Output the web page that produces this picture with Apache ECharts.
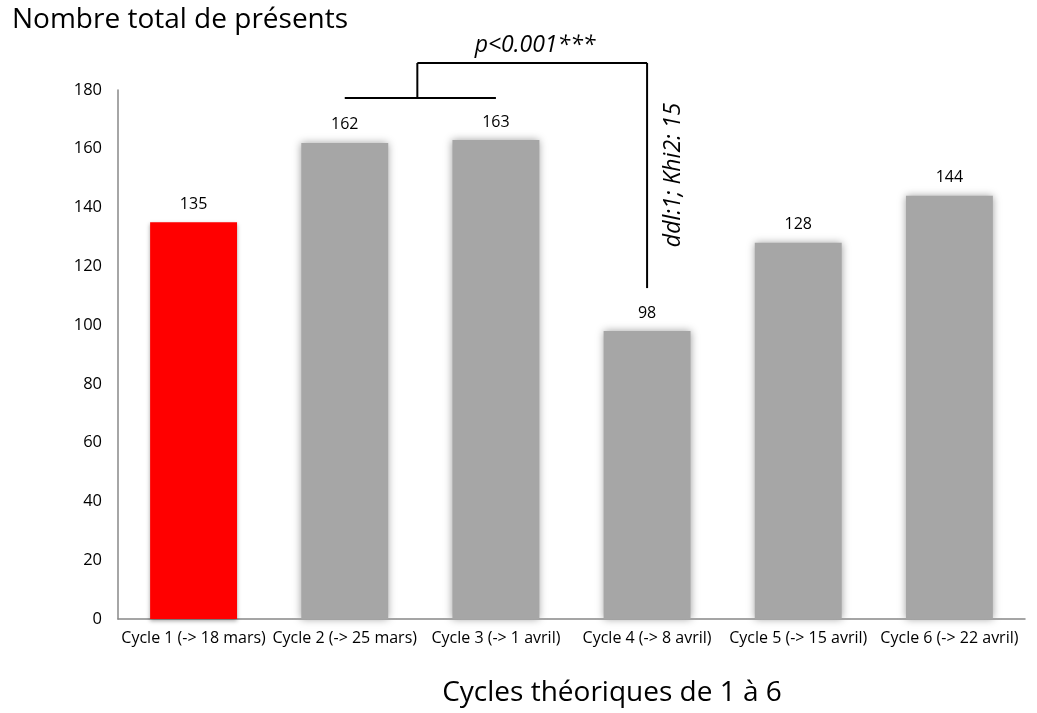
<!DOCTYPE html>
<html>
<head>
<meta charset="utf-8">
<script src="https://cdn.jsdelivr.net/npm/echarts@6/dist/echarts.min.js"></script>
<style>
  html, body { margin: 0; padding: 0; background: #ffffff; }
  #chart { width: 1037px; height: 713px; }
</style>
</head>
<body>
<div id="chart"></div>
<script>
// Attendance per theoretical cycle
const categories = [
  'Cycle 1 (-> 18 mars)',
  'Cycle 2 (-> 25 mars)',
  'Cycle 3 (-> 1 avril)',
  'Cycle 4 (-> 8 avril)',
  'Cycle 5 (-> 15 avril)',
  'Cycle 6 (-> 22 avril)'
];
const presents = [135, 162, 163, 98, 128, 144];
const highlighted = [true, false, false, false, false, false];

const yMin = 0;
const yMax = 180;
const yStep = 20;

const chartTitle = 'Nombre total de présents';
const xTitle = 'Cycles théoriques de 1 à 6';
const testResult = 'p<0.001***';
const testStats = 'ddl:1; Khi2: 15';

// Levels (in axis units) of the comparison bracket between cycles 2-3 and cycle 4
const bracketLow = 177.3;
const bracketHigh = 189.2;
const bracketEnd = 112.6;

const FONT = '"Open Sans", "Noto Sans", sans-serif';
const RED = '#ff0000';
const GREY = '#a6a6a6';

const chart = echarts.init(document.getElementById('chart'), null, { renderer: 'canvas' });

const barData = presents.map((v, i) => ({
  value: v,
  itemStyle: highlighted[i]
    ? { color: RED, shadowBlur: 4, shadowColor: 'rgba(0,0,0,0.35)', shadowOffsetY: 2 }
    : { color: GREY, shadowBlur: 8, shadowColor: 'rgba(160,160,160,1)' }
}));

chart.setOption({
  animation: false,
  backgroundColor: '#ffffff',
  grid: { left: 118, right: 12, top: 90, bottom: 94, containLabel: false },
  xAxis: {
    type: 'category',
    data: categories,
    axisLine: { show: true, lineStyle: { color: '#888888', width: 1.5 } },
    axisTick: { show: false },
    axisLabel: {
      interval: 0,
      margin: 11,
      color: '#000000',
      fontFamily: FONT,
      fontSize: 16
    },
    splitLine: { show: false }
  },
  yAxis: {
    type: 'value',
    min: yMin,
    max: yMax,
    interval: yStep,
    axisLine: { show: true, lineStyle: { color: '#888888', width: 1.5 } },
    axisTick: { show: false },
    axisLabel: {
      margin: 16,
      color: '#000000',
      fontFamily: FONT,
      fontSize: 16.5
    },
    splitLine: { show: false }
  },
  series: [{
    type: 'bar',
    data: barData,
    barWidth: '57.5%',
    label: {
      show: true,
      position: 'top',
      distance: 10,
      color: '#000000',
      fontFamily: FONT,
      fontSize: 16
    }
  }]
});

// Comparison bracket and statistics, placed from the chart's own scales
function drawAnnotations() {
  const px = (i, v) => chart.convertToPixel({ seriesIndex: 0 }, [i, v]);
  const c1Low = px(1, bracketLow);
  const c2Low = px(2, bracketLow);
  const c1High = px(1, bracketHigh);
  const c3High = px(3, bracketHigh);
  const c3End = px(3, bracketEnd);
  const midX = (c1Low[0] + c2Low[0]) / 2 - 3;
  const line = { stroke: '#000000', lineWidth: 2 };

  chart.setOption({
    graphic: [
      { type: 'line', shape: { x1: c1Low[0], y1: c1Low[1], x2: c2Low[0], y2: c2Low[1] }, style: line },
      { type: 'line', shape: { x1: midX, y1: c1Low[1], x2: midX, y2: c1High[1] }, style: line },
      { type: 'line', shape: { x1: midX, y1: c1High[1], x2: c3High[0], y2: c3High[1] }, style: line },
      { type: 'line', shape: { x1: c3High[0], y1: c3High[1], x2: c3End[0], y2: c3End[1] }, style: line },
      {
        type: 'text',
        x: 535, y: 45,
        style: {
          text: testResult, fill: '#000000', font: 'italic 23px ' + FONT,
          align: 'center', verticalAlign: 'middle'
        }
      },
      {
        type: 'text',
        x: 673, y: 175,
        rotation: Math.PI / 2,
        style: {
          text: testStats, fill: '#000000', font: 'italic 23px ' + FONT,
          align: 'center', verticalAlign: 'middle'
        }
      },
      {
        type: 'text',
        left: 12, top: 6,
        style: { text: chartTitle, fill: '#000000', font: '28px ' + FONT }
      },
      {
        type: 'text',
        x: 612, y: 693,
        style: {
          text: xTitle, fill: '#000000', font: '28px ' + FONT,
          align: 'center', verticalAlign: 'middle'
        }
      }
    ]
  });
}
drawAnnotations();
</script>
</body>
</html>
